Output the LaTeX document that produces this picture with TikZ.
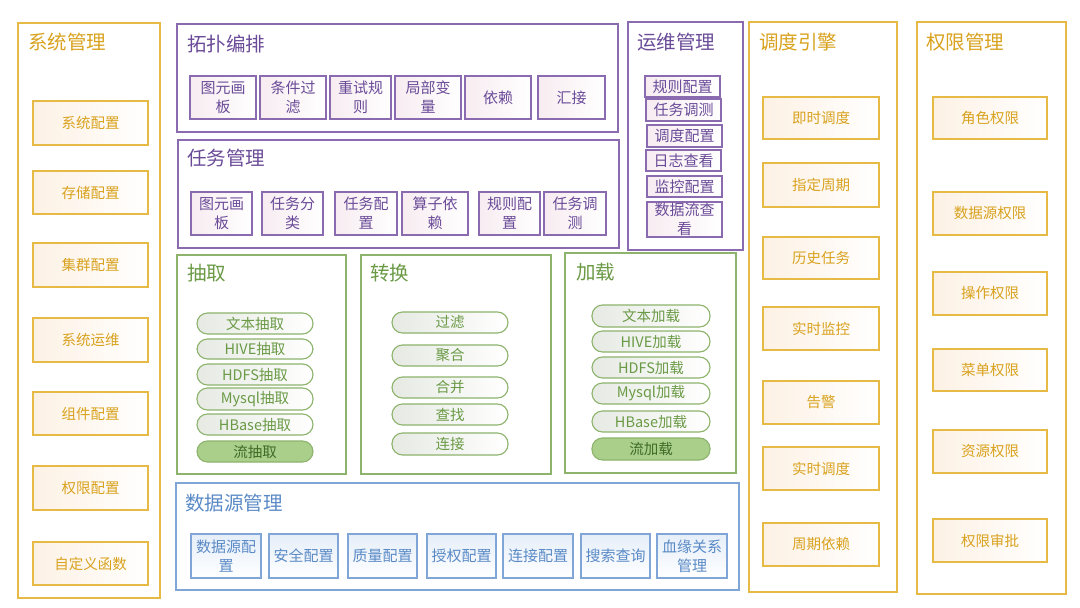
\documentclass[tikz,border=0pt]{standalone}
\usepackage{fontspec}
\setmainfont{Noto Sans CJK SC}
\definecolor{ylw}{HTML}{E6BA45}
\definecolor{ytxt}{HTML}{D9A21E}
\definecolor{ycream}{HTML}{FDF1E4}
\definecolor{pur}{HTML}{8A6BB0}
\definecolor{ptxt}{HTML}{6A4B98}
\definecolor{pfill}{HTML}{F7ECF1}
\definecolor{grn}{HTML}{8DB36C}
\definecolor{gtxt}{HTML}{6A9A45}
\definecolor{gfill}{HTML}{E6EAE3}
\definecolor{gdark}{HTML}{A9CF8B}
\definecolor{gdtxt}{HTML}{3F6B25}
\definecolor{blu}{HTML}{7FA6D6}
\definecolor{btxt}{HTML}{5A8AC6}
\definecolor{bfill}{HTML}{E5EEF9}
\newcommand{\bx}[7]{\node[#6, anchor=north west, minimum width={(#4-#2)*1pt}, minimum height={(#5-#3)*1pt}] (#1) at (#2,#3) {#7};}
\tikzset{
  base/.style={rectangle, inner sep=0pt, outer sep=0pt, align=center},
  ypanel/.style={base, draw=ylw, line width=1.2pt, fill=white},
  ppanel/.style={base, draw=pur, line width=1.2pt, fill=white},
  gpanel/.style={base, draw=grn, line width=1.2pt, fill=white},
  bpanel/.style={base, draw=blu, line width=1.2pt, fill=white},
  ybox/.style={base, draw=ylw, line width=1.2pt, left color=ycream, right color=white, text=ytxt, font=\fontsize{14.5}{18}\selectfont},
  pbox/.style={base, draw=pur, line width=1.2pt, left color=pfill, right color=white, text=ptxt, font=\fontsize{15}{19}\selectfont},
  bbox/.style={base, draw=blu, line width=1.2pt, top color=bfill, bottom color=white, text=btxt, font=\fontsize{15}{19}\selectfont},
  pill/.style={base, draw=grn, line width=1.1pt, rounded corners=10.5pt, left color=gfill, right color=white, text=gtxt, font=\fontsize{14.5}{18}\selectfont},
  pilldark/.style={base, draw=grn, line width=1.1pt, rounded corners=10.5pt, fill=gdark, text=gdtxt, font=\fontsize{14.5}{18}\selectfont},
  ttl/.style={anchor=west, inner sep=0pt, font=\fontsize{19.5}{23}\selectfont},
}
\begin{document}
\begin{tikzpicture}[x=1pt, y=-1pt]
\useasboundingbox (0,0) rectangle (1080,608);
\fill[white] (0,0) rectangle (1080,608);
% 系统管理
\bx{sys}{18}{23}{160}{598}{ypanel}{}
\node[ttl, text=ytxt] (systtl) at (28,42) {系统管理};
\bx{s1}{33}{101}{148}{145}{ybox}{系统配置}
\bx{s2}{33}{171}{148}{214}{ybox}{存储配置}
\bx{s3}{33}{243}{148}{287}{ybox}{集群配置}
\bx{s4}{33}{318}{148}{362}{ybox}{系统运维}
\bx{s5}{33}{392}{148}{435}{ybox}{组件配置}
\bx{s6}{33}{466}{148}{510}{ybox}{权限配置}
\bx{s7}{33}{542}{148}{585}{ybox}{自定义函数}
% 拓扑编排
\bx{topo}{177}{24}{618}{132}{ppanel}{}
\node[ttl, text=ptxt] (topottl) at (187,44) {拓扑编排};
\bx{t1}{190}{76}{256}{119}{pbox}{图元画\\板}
\bx{t2}{260}{76}{326}{119}{pbox}{条件过\\滤}
\bx{t3}{330}{76}{391}{119}{pbox}{重试规\\则}
\bx{t4}{395}{76}{461}{119}{pbox}{局部变\\量}
\bx{t5}{465}{76}{531}{119}{pbox}{依赖}
\bx{t6}{538}{76}{605}{119}{pbox}{汇接}
% 任务管理
\bx{task}{178}{140}{619}{248}{ppanel}{}
\node[ttl, text=ptxt] (taskttl) at (187,158) {任务管理};
\bx{k1}{191}{192}{252}{235}{pbox}{图元画\\板}
\bx{k2}{262}{192}{323}{235}{pbox}{任务分\\类}
\bx{k3}{335}{192}{397}{235}{pbox}{任务配\\置}
\bx{k4}{402}{192}{468}{235}{pbox}{算子依\\赖}
\bx{k5}{479}{192}{540}{235}{pbox}{规则配\\置}
\bx{k6}{544}{192}{606}{235}{pbox}{任务调\\测}
% 运维管理
\bx{ops}{628}{22}{743}{250}{ppanel}{}
\node[ttl, text=ptxt] (opsttl) at (637,42) {运维管理};
\bx{o1}{645}{76}{720}{97}{pbox}{规则配置}
\bx{o2}{646}{99}{721}{121}{pbox}{任务调测}
\bx{o3}{647}{125}{722}{147}{pbox}{调度配置}
\bx{o4}{646}{150}{721}{171}{pbox}{日志查看}
\bx{o5}{647}{176}{722}{197}{pbox}{监控配置}
\bx{o6}{647}{202}{722}{237}{pbox}{数据流查\\看}
% 调度引擎
\bx{sch}{749}{22}{897}{592}{ypanel}{}
\node[ttl, text=ytxt] (schttl) at (759,42) {调度引擎};
\bx{d1}{763}{97}{879}{139}{ybox}{即时调度}
\bx{d2}{763}{163}{879}{207}{ybox}{指定周期}
\bx{d3}{763}{237}{879}{279}{ybox}{历史任务}
\bx{d4}{763}{307}{879}{350}{ybox}{实时监控}
\bx{d5}{763}{381}{879}{424}{ybox}{告警}
\bx{d6}{763}{447}{879}{490}{ybox}{实时调度}
\bx{d7}{763}{523}{879}{566}{ybox}{周期依赖}
% 权限管理
\bx{perm}{917}{22}{1066}{594}{ypanel}{}
\node[ttl, text=ytxt] (permttl) at (926,42) {权限管理};
\bx{q1}{933}{97}{1047}{139}{ybox}{角色权限}
\bx{q2}{933}{192}{1047}{235}{ybox}{数据源权限}
\bx{q3}{933}{272}{1047}{315}{ybox}{操作权限}
\bx{q4}{933}{349}{1047}{391}{ybox}{菜单权限}
\bx{q5}{933}{430}{1047}{473}{ybox}{资源权限}
\bx{q6}{933}{519}{1047}{562}{ybox}{权限审批}
% 抽取
\bx{ext}{177}{255}{346}{474}{gpanel}{}
\node[ttl, text=gtxt] (extttl) at (187,273) {抽取};
\bx{e1}{197}{313}{313}{334}{pill}{文本抽取}
\bx{e2}{197}{339}{313}{359}{pill}{HIVE抽取}
\bx{e3}{197}{364}{313}{385}{pill}{HDFS抽取}
\bx{e4}{197}{388}{313}{410}{pill}{Mysql抽取}
\bx{e5}{197}{414}{313}{435}{pill}{HBase抽取}
\bx{e6}{197}{441}{313}{462}{pilldark}{流抽取}
% 转换
\bx{trf}{361}{255}{551}{474}{gpanel}{}
\node[ttl, text=gtxt] (trfttl) at (370,273) {转换};
\bx{r1}{392}{312}{508}{333}{pill}{过滤}
\bx{r2}{392}{345}{508}{366}{pill}{聚合}
\bx{r3}{392}{377}{508}{398}{pill}{合并}
\bx{r4}{392}{404}{508}{425}{pill}{查找}
\bx{r5}{392}{433}{508}{455}{pill}{连接}
% 加载
\bx{load}{565}{253}{736}{473}{gpanel}{}
\node[ttl, text=gtxt] (loadttl) at (576,272) {加载};
\bx{l1}{592}{305}{710}{327}{pill}{文本加载}
\bx{l2}{592}{331}{710}{352}{pill}{HIVE加载}
\bx{l3}{592}{357}{710}{378}{pill}{HDFS加载}
\bx{l4}{592}{383}{710}{404}{pill}{Mysql加载}
\bx{l5}{592}{411}{710}{432}{pill}{HBase加载}
\bx{l6}{592}{438}{710}{460}{pilldark}{流加载}
% 数据源管理
\bx{ds}{176}{483}{739}{590}{bpanel}{}
\node[ttl, text=btxt] (dsttl) at (185,503) {数据源管理};
\bx{b1}{191}{534}{261}{578}{bbox}{数据源配\\置}
\bx{b2}{269}{534}{338}{578}{bbox}{安全配置}
\bx{b3}{348}{534}{417}{578}{bbox}{质量配置}
\bx{b4}{427}{534}{496}{578}{bbox}{授权配置}
\bx{b5}{503}{534}{573}{578}{bbox}{连接配置}
\bx{b6}{581}{534}{650}{578}{bbox}{搜索查询}
\bx{b7}{657}{534}{727}{578}{bbox}{血缘关系\\管理}
\end{tikzpicture}
\end{document}
